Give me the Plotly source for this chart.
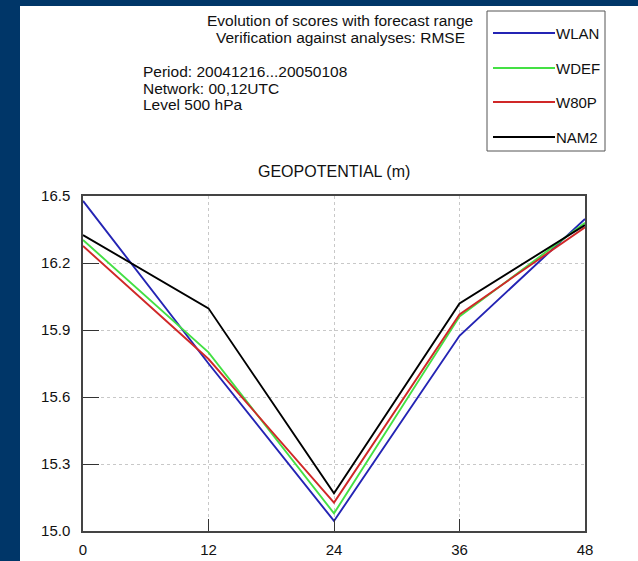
import plotly.graph_objects as go

# ---- data ----
forecast_range = [0, 12, 24, 36, 48]
series_names = ["WLAN", "WDEF", "W80P", "NAM2"]
wlan = [16.478, 15.75, 15.045, 15.874, 16.397]
wdef = [16.303, 15.80, 15.079, 15.96, 16.38]
w80p = [16.276, 15.77, 15.127, 15.97, 16.36]
nam2 = [16.325, 15.997, 15.169, 16.019, 16.37]
series_values = [wlan, wdef, w80p, nam2]
series_colors = ["#2424B4", "#44E044", "#D02828", "#000000"]
x_ticks = [0, 12, 24, 36, 48]
y_ticks = [15.0, 15.3, 15.6, 15.9, 16.2, 16.5]
y_tick_labels = ["15.0", "15.3", "15.6", "15.9", "16.2", "16.5"]
title_lines = ["Evolution of scores with forecast range",
               "Verification against analyses: RMSE"]
info_lines = ["Period: 20041216...20050108", "Network: 00,12UTC", "Level 500 hPa"]
subtitle = "GEOPOTENTIAL (m)"

W, H = 638, 561
L, R, T, B = 83, 585, 196, 531
FONT = "Liberation Sans, Arial, sans-serif"
NAVY = "rgb(0,54,104)"


def px(x):
    return (x - L) / (R - L)


def py(y):
    return (B - y) / (B - T)


fig = go.Figure()
for name, vals, col in zip(series_names, series_values, series_colors):
    fig.add_trace(go.Scatter(x=forecast_range, y=vals, mode="lines", name=name,
                             line=dict(color=col, width=1.9), showlegend=False))

shapes = [
    # navy frame strips (left and top)
    dict(type="rect", xref="paper", yref="paper", x0=px(-5), x1=px(20),
         y0=py(H + 5), y1=py(-5), fillcolor=NAVY, line=dict(width=0), layer="below"),
    dict(type="rect", xref="paper", yref="paper", x0=px(-5), x1=px(W + 5),
         y0=py(6), y1=py(-5), fillcolor=NAVY, line=dict(width=0), layer="below"),
    # legend box
    dict(type="rect", xref="paper", yref="paper", x0=px(487), x1=px(605),
         y0=py(151), y1=py(11), fillcolor="rgba(0,0,0,0)",
         line=dict(color="#555555", width=1)),
]
annotations = []
leg_y = [33, 68, 102, 137]
for name, col, yy in zip(series_names, series_colors, leg_y):
    shapes.append(dict(type="line", xref="paper", yref="paper", x0=px(493), x1=px(555),
                       y0=py(yy), y1=py(yy), line=dict(color=col, width=1.8)))
    annotations.append(dict(text=name, xref="paper", yref="paper", x=px(555), y=py(yy),
                            xanchor="left", yanchor="middle", showarrow=False, borderpad=0,
                            font=dict(family=FONT, size=15, color="#111111")))

for txt, yy in zip(title_lines, [20.5, 37.5]):
    annotations.append(dict(text=txt, xref="paper", yref="paper", x=px(340), y=py(yy),
                            xanchor="center", yanchor="middle", showarrow=False, borderpad=0,
                            font=dict(family=FONT, size=15.5, color="#111111")))
for txt, yy in zip(info_lines, [71, 88, 105]):
    annotations.append(dict(text=txt, xref="paper", yref="paper", x=px(142), y=py(yy),
                            xanchor="left", yanchor="middle", showarrow=False, borderpad=0,
                            font=dict(family=FONT, size=15.5, color="#111111")))
annotations.append(dict(text=subtitle, xref="paper", yref="paper", x=px(334), y=py(172),
                        xanchor="center", yanchor="middle", showarrow=False, borderpad=0,
                        font=dict(family=FONT, size=16, color="#111111")))

fig.update_layout(
    width=W, height=H,
    margin=dict(l=L, r=W - R, t=T, b=H - B, pad=0, autoexpand=False),
    paper_bgcolor="white",
    plot_bgcolor="white",
    shapes=shapes,
    annotations=annotations,
    xaxis=dict(range=[0, 48], tickvals=x_ticks, ticks="inside", ticklen=12,
               tickcolor="#333333", showline=True, linecolor="#444444", linewidth=1.5,
               mirror=True, showgrid=True, gridcolor="#c8c8c8", griddash="dot",
               gridwidth=1, zeroline=False, automargin=False,
               tickfont=dict(family=FONT, size=15, color="#111111"), ticklabelstandoff=4),
    yaxis=dict(range=[15.0, 16.5], tickvals=y_ticks, ticktext=y_tick_labels,
               ticks="inside", ticklen=16, tickcolor="#333333", showline=True,
               linecolor="#444444", linewidth=1.5, mirror=True, showgrid=True,
               gridcolor="#c8c8c8", griddash="dot", gridwidth=1, zeroline=False,
               automargin=False,
               tickfont=dict(family=FONT, size=15, color="#111111"), ticklabelstandoff=8),
)

fig.write_html("out.html")
